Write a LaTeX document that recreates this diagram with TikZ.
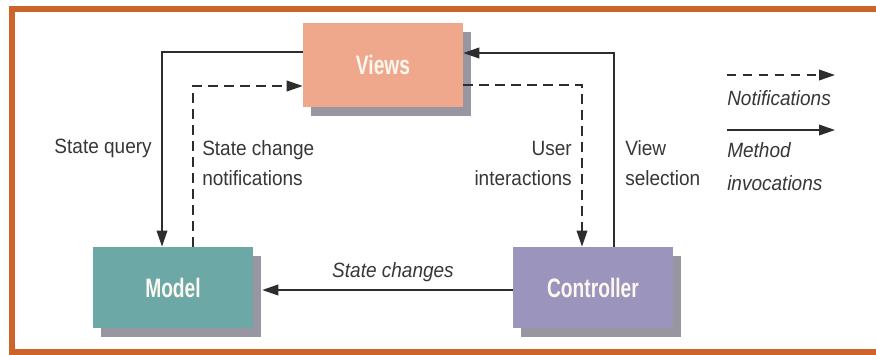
\documentclass[tikz,border=0pt]{standalone}
\usepackage{fontspec}
\setmainfont[FakeStretch=0.92]{Liberation Sans}
\newfontfamily\boxfont[FakeStretch=0.72]{Liberation Sans}
\usetikzlibrary{arrows.meta,shadows,calc}

\definecolor{framecol}{RGB}{205,100,42}
\definecolor{viewscol}{RGB}{239,168,140}
\definecolor{modelcol}{RGB}{108,168,166}
\definecolor{ctrlcol}{RGB}{155,148,188}
\definecolor{shadowcol}{RGB}{152,150,160}
\definecolor{boxtext}{RGB}{252,247,240}
\definecolor{linecol}{RGB}{45,45,45}
\definecolor{textcol}{RGB}{55,55,55}

\tikzset{
  block/.style={minimum width=120pt, minimum height=61pt, inner sep=0pt,
    font=\boxfont\bfseries\fontsize{20}{22}\selectfont, text=boxtext,
    drop shadow={shadow xshift=6pt, shadow yshift=-6.5pt, fill=shadowcol, opacity=1}},
  method/.style={draw=linecol, line width=1.2pt, -{Triangle[length=12pt,width=8pt]}},
  notify/.style={method, dash pattern=on 7pt off 5pt},
  lbl/.style={font=\fontsize{15.5}{22.5}\selectfont, text=textcol, inner sep=0pt},
  ilbl/.style={lbl, font=\fontsize{15.5}{24.75}\selectfont\itshape},
}

\begin{document}
\begin{tikzpicture}[x=0.75pt, y=-0.75pt]
  \useasboundingbox (0,0) rectangle (876,354);
  \clip (0,0) rectangle (876,354);
  \fill[white] (0,0) rectangle (876,354);

  % Orange frame, open past the right edge
  \draw[framecol, line width=4.5pt] (12,9) rectangle (900,352);

  % Boxes
  \node[block, fill=viewscol, minimum height=63pt] (views) at (383,65) {Views};
  \node[block, fill=modelcol] (model) at (173,287.5) {Model};
  \node[block, fill=ctrlcol] (ctrl) at (593,287.5) {Controller};

  % Left loop
  \draw[method] ($(views.west)+(0,-13)$) -| ($(model.north)+(-11,0)$);
  \draw[notify] ($(model.north)+(20,0)$) |- ($(views.west)+(0,21)$);

  % Right loop
  \draw[notify] ($(views.east)+(0,20)$) -| ($(ctrl.north)+(-11,0)$);
  \draw[method] ($(ctrl.north)+(21,0)$) |- ($(views.east)+(0,-12)$);

  % Bottom
  \draw[method] ($(ctrl.west)+(0,2.5)$) -- ($(model.east)+(9,2.5)$);

  % Labels
  \node[lbl, anchor=east] (sq) at (152,148) {State query};
  \node[lbl, anchor=west, align=left] (scn) at (202,163) {State change\\notifications};
  \node[lbl, anchor=east, align=right] (ui) at (572,163) {User\\interactions};
  \node[lbl, anchor=west, align=left] (vs) at (625,163) {View\\selection};
  \node[ilbl] (sc) at (393,272) {State changes};

  % Legend
  \coordinate (nfrom) at (727,75);
  \coordinate (nto) at (835,75);
  \draw[notify] (nfrom) -- (nto);
  \node[ilbl, anchor=west] (ntxt) at (727,98) {Notifications};
  \coordinate (mfrom) at (727,130);
  \coordinate (mto) at (835,130);
  \draw[method] (mfrom) -- (mto);
  \node[ilbl, anchor=west, align=left] (mtxt) at (727,166.5) {Method\\invocations};
\end{tikzpicture}
\end{document}
